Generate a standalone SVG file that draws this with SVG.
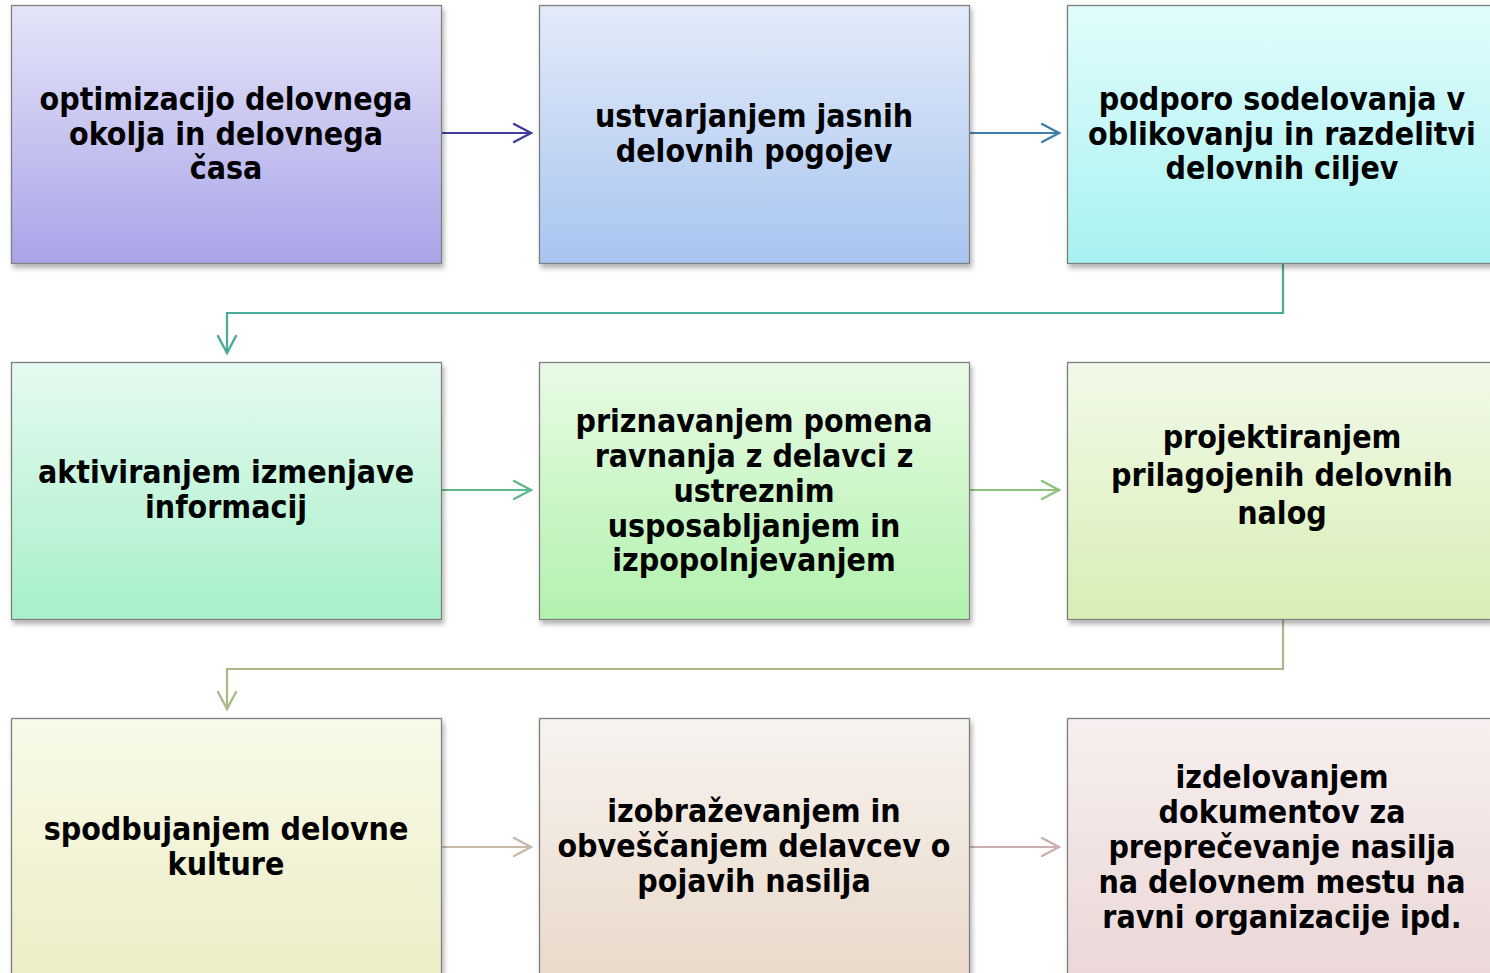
<svg xmlns="http://www.w3.org/2000/svg" width="1490" height="973" viewBox="0 0 1490 973">
<defs>
<filter id="sh" x="-5%" y="-5%" width="115%" height="115%">
<feDropShadow dx="2" dy="4" stdDeviation="2.5" flood-color="#000" flood-opacity="0.3"/>
</filter>
<linearGradient id="g1" x1="0" y1="0" x2="0" y2="1"><stop offset="0" stop-color="#E5E5F9"/><stop offset="1" stop-color="#A9A4E8"/></linearGradient>
<linearGradient id="g2" x1="0" y1="0" x2="0" y2="1"><stop offset="0" stop-color="#E3EBF9"/><stop offset="1" stop-color="#A8C5F0"/></linearGradient>
<linearGradient id="g3" x1="0" y1="0" x2="0" y2="1"><stop offset="0" stop-color="#E1FCFC"/><stop offset="1" stop-color="#A8F2F1"/></linearGradient>
<linearGradient id="g4" x1="0" y1="0" x2="0" y2="1"><stop offset="0" stop-color="#E6FAF0"/><stop offset="1" stop-color="#A7F0C9"/></linearGradient>
<linearGradient id="g5" x1="0" y1="0" x2="0" y2="1"><stop offset="0" stop-color="#E9FAE5"/><stop offset="1" stop-color="#B2F2AE"/></linearGradient>
<linearGradient id="g6" x1="0" y1="0" x2="0" y2="1"><stop offset="0" stop-color="#F1FAE9"/><stop offset="1" stop-color="#D8EEB5"/></linearGradient>
<linearGradient id="g7" x1="0" y1="0" x2="0" y2="1"><stop offset="0" stop-color="#F8FAE9"/><stop offset="1" stop-color="#EDEDC5"/></linearGradient>
<linearGradient id="g8" x1="0" y1="0" x2="0" y2="1"><stop offset="0" stop-color="#F7F3EF"/><stop offset="1" stop-color="#E9D9CA"/></linearGradient>
<linearGradient id="g9" x1="0" y1="0" x2="0" y2="1"><stop offset="0" stop-color="#F7EFEF"/><stop offset="1" stop-color="#EBD7D7"/></linearGradient>
</defs>
<style>
.box{stroke:#808080;stroke-width:1.3;filter:url(#sh)}
.t{font-family:"DejaVu Sans Condensed","DejaVu Sans",sans-serif;font-weight:bold;font-size:31.8px;fill:#000;text-anchor:middle}
.c{fill:none;stroke-width:2.2}
.h{fill:none;stroke-width:2.4;stroke-linecap:round;stroke-linejoin:miter}
</style>
<g id="connectors">
<path class="c" stroke="#3F3F9B" d="M442,133 H531"/><path class="h" stroke="#3F3F9B" d="M514,124 L531,133 L514,142"/>
<path class="c" stroke="#3D7FAA" d="M970,133 H1059"/><path class="h" stroke="#3D7FAA" d="M1042,124 L1059,133 L1042,142"/>
<path class="c" stroke="#4AAA9C" d="M1283,264 V313 H227 V353"/><path class="h" stroke="#4AAA9C" d="M218,336 L227,353 L236,336"/>
<path class="c" stroke="#5DB88A" d="M442,490 H531"/><path class="h" stroke="#5DB88A" d="M514,481 L531,490 L514,499"/>
<path class="c" stroke="#8DC27D" d="M970,490 H1059"/><path class="h" stroke="#8DC27D" d="M1042,481 L1059,490 L1042,499"/>
<path class="c" stroke="#AAB98A" d="M1283,620 V669 H227 V709"/><path class="h" stroke="#AAB98A" d="M218,692 L227,709 L236,692"/>
<path class="c" stroke="#C9B9A9" d="M442,847 H531"/><path class="h" stroke="#C9B9A9" d="M514,838 L531,847 L514,856"/>
<path class="c" stroke="#CBAFAF" d="M970,847 H1059"/><path class="h" stroke="#CBAFAF" d="M1042,838 L1059,847 L1042,856"/>
</g>
<g id="n1"><rect class="box" x="11.5" y="5.5" width="430" height="258" fill="url(#g1)"/>
<text class="t" x="226" y="110">optimizacijo delovnega</text><text class="t" x="226" y="145">okolja in delovnega</text><text class="t" x="226" y="179">časa</text></g>
<g id="n2"><rect class="box" x="539.5" y="5.5" width="430" height="258" fill="url(#g2)"/>
<text class="t" x="754" y="127">ustvarjanjem jasnih</text><text class="t" x="754" y="162">delovnih pogojev</text></g>
<g id="n3"><rect class="box" x="1067.5" y="5.5" width="430" height="258" fill="url(#g3)"/>
<text class="t" x="1282" y="110">podporo sodelovanja v</text><text class="t" x="1282" y="145">oblikovanju in razdelitvi</text><text class="t" x="1282" y="179">delovnih ciljev</text></g>
<g id="n4"><rect class="box" x="11.5" y="362.5" width="430" height="257" fill="url(#g4)"/>
<text class="t" x="226" y="483">aktiviranjem izmenjave</text><text class="t" x="226" y="518">informacij</text></g>
<g id="n5"><rect class="box" x="539.5" y="362.5" width="430" height="257" fill="url(#g5)"/>
<text class="t" x="754" y="432">priznavanjem pomena</text><text class="t" x="754" y="467">ravnanja z delavci z</text><text class="t" x="754" y="502">ustreznim</text><text class="t" x="754" y="537">usposabljanjem in</text><text class="t" x="754" y="571">izpopolnjevanjem</text></g>
<g id="n6"><rect class="box" x="1067.5" y="362.5" width="430" height="257" fill="url(#g6)"/>
<text class="t" x="1282" y="448">projektiranjem</text><text class="t" x="1282" y="486">prilagojenih delovnih</text><text class="t" x="1282" y="524">nalog</text></g>
<g id="n7"><rect class="box" x="11.5" y="718.5" width="430" height="258" fill="url(#g7)"/>
<text class="t" x="226" y="840">spodbujanjem delovne</text><text class="t" x="226" y="875">kulture</text></g>
<g id="n8"><rect class="box" x="539.5" y="718.5" width="430" height="258" fill="url(#g8)"/>
<text class="t" x="754" y="822">izobraževanjem in</text><text class="t" x="754" y="857">obveščanjem delavcev o</text><text class="t" x="754" y="892">pojavih nasilja</text></g>
<g id="n9"><rect class="box" x="1067.5" y="718.5" width="430" height="258" fill="url(#g9)"/>
<text class="t" x="1282" y="788">izdelovanjem</text><text class="t" x="1282" y="823">dokumentov za</text><text class="t" x="1282" y="858">preprečevanje nasilja</text><text class="t" x="1282" y="893">na delovnem mestu na</text><text class="t" x="1282" y="928">ravni organizacije ipd.</text></g>
</svg>
